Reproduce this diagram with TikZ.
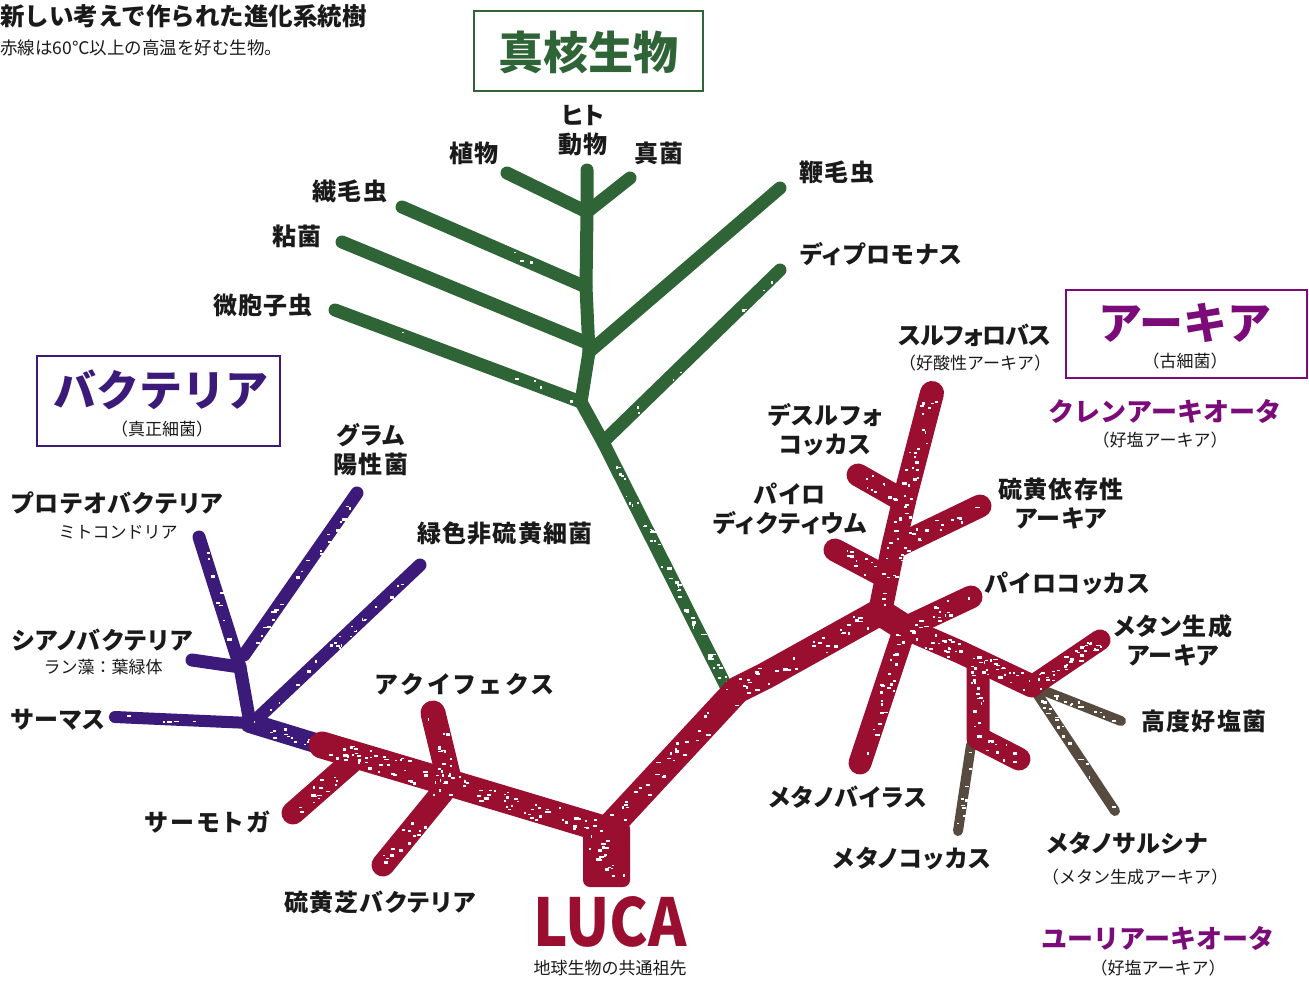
\documentclass[tikz,border=0pt]{standalone}
\usepackage{fontspec}
\setmainfont{Noto Sans CJK JP}
\usetikzlibrary{calc}
\definecolor{egreen}{HTML}{2F6436}
\definecolor{ared}{HTML}{9A0E2F}
\definecolor{bpurple}{HTML}{3B1A7A}
\definecolor{apurple}{HTML}{7B0B78}
\definecolor{agray}{HTML}{574B40}
\definecolor{ink}{HTML}{1A1A1A}
\tikzset{
  lbl/.style={font=\fontsize{24}{29}\selectfont\bfseries\addfontfeature{RawFeature=+palt,LetterSpace=5}, text=ink, align=center, inner sep=0pt},
  sml/.style={font=\fontsize{17}{20}\selectfont, text=ink, align=center, inner sep=0pt},
  grp/.style={font=\fontsize{26}{30}\selectfont\bfseries, text=apurple, inner sep=0pt},
  bigttl/.style={font=\fontsize{44}{48}\selectfont\bfseries, inner sep=0pt},
  frame/.style={line width=2pt},
  euk/.style={draw=egreen, line width=13pt, line cap=round, line join=round},
  redmain/.style={draw=ared, line width=27pt, line cap=round, line join=round},
  redbr/.style={draw=ared, line width=23pt, line cap=round, line join=round},
  bact/.style={draw=bpurple, line width=13pt, line cap=round, line join=round},
  gry/.style={draw=agray, line width=10pt, line cap=round, line join=round},
}
% white grunge specks along a segment: #1,#2 ends, #3 half spread, #4 count
\newcommand\grunge[4]{%
  \foreach \k in {1,...,#4}{%
    \pgfmathsetmacro\spT{0.03+0.94*rnd}%
    \pgfmathsetmacro\spS{(2*rnd-1)*#3}%
    \pgfmathsetmacro\spW{1.4+3.4*rnd}%
    \pgfmathsetmacro\spH{1+2*rnd}%
    \coordinate (spP) at ($(#1)!\spT!(#2)$);%
    \fill[white] ($(spP)!\spS pt!90:(#2)$) rectangle ++(\spW,\spH);%
  }%
}
\begin{document}
\begin{tikzpicture}[x=1pt,y=-1pt]
\pgfmathsetseed{7}
\path[use as bounding box] (0,0) rectangle (1309,983);

% ---------- title ----------
\node[anchor=west, inner sep=0pt, font=\fontsize{24.5}{28}\selectfont\bfseries, text=ink] (title) at (0,16) {新しい考えで作られた進化系統樹};
\node[anchor=west, inner sep=0pt, font=\fontsize{17.5}{20}\selectfont, text=ink] (subtitle) at (0,48) {赤線は60℃以上の高温を好む生物。};

% ---------- eukaryote tree ----------
\coordinate (gRoot) at (728,690);
\coordinate (gA) at (603,442);
\coordinate (gB) at (581,402);
\coordinate (gC) at (589,352);
\coordinate (gD) at (586,287);
\coordinate (gE) at (587,212);
\coordinate (gTop) at (587,170);
\coordinate (eMikro) at (335,310);
\coordinate (eNenkin) at (342,242);
\coordinate (eSenmou) at (402,207);
\coordinate (eShoku) at (507,173);
\coordinate (eShinkin) at (630,178);
\coordinate (eBenmou) at (780,188);
\coordinate (eDipro) at (780,270);
\draw[euk] (gRoot) -- (gA) -- (gB) -- (gC) -- (gD) -- (gE) -- (gTop);
\draw[euk] (eMikro) -- (gB);
\draw[euk] (eNenkin) -- (585,342);
\draw[euk] (eSenmou) -- (gD);
\draw[euk] (eShoku) -- (gE);
\draw[euk] (eShinkin) -- (gE);
\draw[euk] (eBenmou) -- (gC);
\draw[euk] (eDipro) -- (gA);
\grunge{gRoot}{gA}{4}{45}
\grunge{eDipro}{gA}{4}{8}
\grunge{eMikro}{gB}{4}{5}
\grunge{eSenmou}{gD}{4}{3}

% ---------- bacteria (purple) ----------
\coordinate (pThermus) at (115,717);
\coordinate (pJ) at (250,723);
\coordinate (pK) at (240,667);
\coordinate (pProteo) at (199,537);
\coordinate (pCyano) at (192,660);
\coordinate (pGram) at (357,493);
\coordinate (pGramJ) at (244,655);
\coordinate (pGreen) at (420,565);
\coordinate (pGreenJ) at (260,716);
\coordinate (rStart) at (322,745);
\draw[bact, line width=12pt] (pThermus) -- (pJ);
\draw[bact, line width=20pt] (pJ) -- (rStart);
\draw[bact] (pJ) -- (pK) -- (pProteo);
\draw[bact] (pCyano) -- (pK);
\draw[bact] (pGram) -- (pGramJ);
\draw[bact] (pGreen) -- (pGreenJ);
\grunge{pGram}{pGramJ}{4}{22}
\grunge{pGreen}{pGreenJ}{4}{22}
\grunge{pProteo}{pK}{4}{8}
\grunge{pJ}{rStart}{7}{14}
\grunge{pThermus}{pJ}{3}{5}

% ---------- gray (non-thermophile archaea) ----------
\coordinate (aR2) at (1032,686);
\coordinate (aHalo) at (1121,721);
\coordinate (aSarc) at (1115,811);
\coordinate (aCocTop) at (971,745);
\coordinate (aCoc) at (958,831);
\draw[gry] (aR2) -- (aHalo);
\draw[gry] (aR2) -- (aSarc);
\draw[gry] (aCocTop) -- (aCoc);
\grunge{aR2}{aHalo}{3}{12}
\grunge{aR2}{aSarc}{3}{16}
\grunge{aCocTop}{aCoc}{3}{10}

% ---------- red tree ----------
\coordinate (rAq) at (450,783);
\coordinate (rBend) at (607,830);
\coordinate (r1) at (737,690);
\coordinate (r2) at (765,676);
\coordinate (aJ1) at (880,612);
\coordinate (aJ2) at (905,628);
\coordinate (aR1) at (960,652);
\coordinate (rThermo) at (293,813);
\coordinate (rThermoJ) at (358,756);
\coordinate (rAquifex) at (433,713);
\coordinate (rSulfur) at (383,865);
\draw[redbr] (rThermo) -- (rThermoJ);
\draw[redbr, line width=25pt] (rAquifex) -- (rAq);
\draw[redbr] (rSulfur) -- (rAq);
\fill[ared, rounded corners=7pt] (583,822) rectangle (630,887);
\draw[redmain] (rStart) -- (rAq) -- (rBend) -- (r1) -- (r2) -- (aJ1) -- (aJ2);
% archaea
\coordinate (aT1) at (893,548);
\coordinate (aT2) at (905,497);
\coordinate (aSulfolobus) at (932,393);
\coordinate (aDesulfo) at (858,475);
\coordinate (aPyrodict) at (835,550);
\coordinate (aSdep) at (980,506);
\coordinate (aPyroc) at (971,597);
\coordinate (aMvirus) at (860,763);
\coordinate (aCocR1) at (978,664);
\coordinate (aCocR2) at (978,738);
\coordinate (aCocR3) at (1019,759);
\coordinate (aMeth) at (1100,640);
\draw[redbr, line width=24pt] (aJ1) -- (aT1) -- (aT2) -- (aSulfolobus);
\draw[redbr] (aDesulfo) -- (902,500);
\draw[redbr] (aPyrodict) -- (884,576);
\draw[redbr] (aSdep) -- (aT1);
\draw[redbr] (aPyroc) -- (aJ2);
\draw[redbr] (aMvirus) -- (aJ2);
\draw[redbr] (aJ2) -- (aR1) -- (aR2);
\draw[redbr] (aCocR1) -- (aCocR2) -- (aCocR3);
\draw[redbr, line width=21pt] (aR2) -- (aMeth);
% red grunge
\grunge{rStart}{rAq}{10}{40}
\grunge{rAq}{rBend}{10}{45}
\grunge{rBend}{r1}{10}{30}
\grunge{r1}{aJ1}{10}{35}
\grunge{rThermo}{rThermoJ}{8}{18}
\grunge{rAquifex}{rAq}{9}{18}
\grunge{rSulfur}{rAq}{8}{18}
\grunge{aJ1}{aSulfolobus}{9}{45}
\grunge{aDesulfo}{902,500}{8}{10}
\grunge{aPyrodict}{884,576}{8}{10}
\grunge{aSdep}{aT1}{8}{18}
\grunge{aPyroc}{aJ2}{8}{16}
\grunge{aMvirus}{aJ2}{8}{25}
\grunge{aJ2}{aR2}{9}{50}
\grunge{aCocR1}{aCocR2}{8}{16}
\grunge{aCocR2}{aCocR3}{8}{10}
\grunge{aR2}{aMeth}{7}{34}
\grunge{590,835}{622,880}{12}{18}

% ---------- boxes ----------
\draw[frame, draw=egreen] (474,11) rectangle (703,91);
\node[bigttl, text=egreen, font=\fontsize{45}{48}\selectfont\bfseries] (eukttl) at (588,52) {真核生物};
\draw[frame, draw=apurple] (1066,290) rectangle (1307,378);
\node[bigttl, text=apurple] (archttl) at (1185,323) {アーキア};
\node[sml] (archsub) at (1185,361) {（古細菌）};
\draw[frame, draw=bpurple] (37,356) rectangle (280,446);
\node[bigttl, text=bpurple, font=\fontsize{43}{48}\selectfont\bfseries] (bactttl) at (161,390) {バクテリア};
\node[sml] (bactsub) at (162,429) {（真正細菌）};

% ---------- eukaryote labels ----------
\node[lbl] (lHito) at (583,131) {ヒト\\動物};
\node[lbl] (lShoku) at (474,153) {植物};
\node[lbl] (lShinkin) at (659,153) {真菌};
\node[lbl] (lSenmou) at (350,191) {繊毛虫};
\node[lbl] (lNenkin) at (297,236) {粘菌};
\node[lbl] (lMikro) at (263,305) {微胞子虫};
\node[lbl] (lBenmou) at (837,172) {鞭毛虫};
\node[lbl] (lDipro) at (881,254) {ディプロモナス};

% ---------- archaea labels ----------
\node[lbl, font=\fontsize{24}{29}\selectfont\bfseries\addfontfeature{RawFeature=+palt,LetterSpace=-4}] (lSulfo) at (975,335) {スルフォロバス};
\node[sml] (lSulfoS) at (975,363) {（好酸性アーキア）};
\node[lbl] (lDesulfo) at (825,430) {デスルフォ\\コッカス};
\node[lbl] (lPyrodict) at (790,509) {パイロ\\ディクティウム};
\node[lbl] (lSdep) at (1061,504) {硫黄依存性\\アーキア};
\node[lbl] (lPyroc) at (1067,583) {パイロコッカス};
\node[lbl] (lMeth) at (1173,640) {メタン生成\\アーキア};
\node[lbl] (lHalo) at (1204,721) {高度好塩菌};
\node[lbl] (lSarc) at (1127,843) {メタノサルシナ};
\node[sml] (lSarcS) at (1135,877) {（メタン生成アーキア）};
\node[lbl] (lMvirus) at (848,797) {メタノバイラス};
\node[lbl] (lMcoc) at (912,859) {メタノコッカス};
\node[grp] (lCren) at (1165,411) {クレンアーキオータ};
\node[sml] (lCrenS) at (1160,440) {（好塩アーキア）};
\node[grp] (lEury) at (1158,938) {ユーリアーキオータ};
\node[sml] (lEuryS) at (1158,968) {（好塩アーキア）};

% ---------- root / bacteria labels ----------
\node[inner sep=0pt, text=ared, font=\fontsize{66}{70}\selectfont\bfseries] (lLuca) at (610,922) {\scalebox{0.88}[1]{LUCA}};
\node[sml] (lLucaS) at (610,968) {地球生物の共通祖先};
\node[lbl] (lSulfurB) at (380,902) {硫黄芝バクテリア};
\node[lbl, font=\fontsize{24}{29}\selectfont\bfseries\addfontfeature{RawFeature=+palt,LetterSpace=14}] (lThermo) at (207,822) {サーモトガ};
\node[lbl, font=\fontsize{24}{29}\selectfont\bfseries\addfontfeature{RawFeature=+palt,LetterSpace=20}] (lAquifex) at (465,684) {アクイフェクス};
\node[lbl] (lThermus) at (58,720) {サーマス};
\node[lbl] (lCyano) at (102,640) {シアノバクテリア};
\node[sml] (lCyanoS) at (103,667) {ラン藻：葉緑体};
\node[lbl] (lProteo) at (117,503) {プロテオバクテリア};
\node[sml] (lProteoS) at (118,532) {ミトコンドリア};
\node[lbl] (lGram) at (371,450) {グラム\\陽性菌};
\node[lbl] (lGreen) at (505,533) {緑色非硫黄細菌};
\end{tikzpicture}
\end{document}
